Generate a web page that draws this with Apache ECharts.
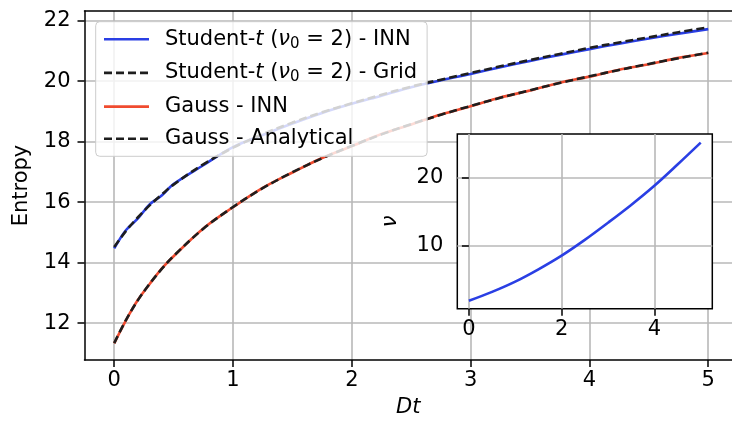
<!DOCTYPE html>
<html>
<head>
<meta charset="utf-8">
<script src="https://cdn.jsdelivr.net/npm/echarts@6/dist/echarts.min.js"></script>
<style>
  html, body { margin: 0; padding: 0; background: #fff; }
  #chart { width: 732px; height: 423px; }
</style>
</head>
<body>
<div id="chart"></div>
<script>
// main panel: entropy vs Dt
const dt = [0, 0.1, 0.2, 0.3, 0.4, 0.5, 0.75, 1, 1.25, 1.5, 1.75, 2, 2.25, 2.5, 2.75, 3, 3.25, 3.5, 3.75, 4, 4.25, 4.5, 4.75, 5]
const studentInn = [14.47, 15.08, 15.46, 15.93, 16.22, 16.60, 17.22, 17.82, 18.22, 18.60, 18.95, 19.25, 19.52, 19.80, 20.03, 20.24, 20.46, 20.67, 20.87, 21.06, 21.24, 21.41, 21.57, 21.72]
const studentGrid = [14.52, 15.05, 15.50, 15.90, 16.25, 16.58, 17.25, 17.80, 18.25, 18.63, 18.97, 19.27, 19.55, 19.82, 20.05, 20.27, 20.49, 20.70, 20.90, 21.10, 21.28, 21.45, 21.62, 21.78]
const gaussInn = [11.33, 12.10, 12.77, 13.30, 13.80, 14.21, 15.13, 15.83, 16.47, 16.98, 17.46, 17.85, 18.25, 18.57, 18.90, 19.17, 19.46, 19.69, 19.95, 20.15, 20.38, 20.56, 20.77, 20.93]
const gaussAnalytical = [11.34, 12.11, 12.76, 13.31, 13.79, 14.22, 15.12, 15.84, 16.46, 16.99, 17.45, 17.86, 18.24, 18.58, 18.89, 19.18, 19.45, 19.70, 19.94, 20.16, 20.37, 20.57, 20.76, 20.94]
const xTicks = [0, 1, 2, 3, 4, 5]
const yTicks = [12, 14, 16, 18, 20, 22]

// inset: nu vs Dt
const nuDt = [0, 0.5, 1, 1.5, 2, 2.5, 3, 3.5, 4, 4.5, 5]
const nu = [2.0, 3.3, 4.8, 6.6, 8.6, 10.9, 13.4, 16.0, 18.8, 21.9, 25.1]
const insetXTicks = [0, 2, 4]
const insetYTicks = [10, 20]

const names = [
  'Student-t (ν0 = 2) - INN',
  'Student-t (ν0 = 2) - Grid',
  'Gauss - INN',
  'Gauss - Analytical'
]
const legendText = {
  [names[0]]: 'Student-{it|t} ({it|ν}{sub|0} = 2) - INN',
  [names[1]]: 'Student-{it|t} ({it|ν}{sub|0} = 2) - Grid',
  [names[2]]: 'Gauss - INN',
  [names[3]]: 'Gauss - Analytical'
}

const FONT = 'DejaVu Sans'
const FS = 21
const BLUE = '#2a3fe4'
const RED = '#f04b2f'
const DASH = '#1e1e1e'
const GRIDC = '#b8b8b8'

const zip = (xs, ys) => xs.map((x, i) => [x, ys[i]])

const line = (name, data, color, dashed, z) => ({
  name,
  type: 'line',
  data: zip(dt, data),
  xAxisIndex: 0,
  yAxisIndex: 0,
  symbol: 'none',
  smooth: 0.35,
  z,
  lineStyle: { color, width: 2.6, type: dashed ? [8, 4] : 'solid' },
  itemStyle: { color },
  emphasis: { disabled: true }
})

const tickLabel = { fontFamily: FONT, fontSize: FS, color: '#000' }

const chart = echarts.init(document.getElementById('chart'), null, { renderer: 'canvas' })
chart.setOption({
  animation: false,
  backgroundColor: '#fff',
  grid: [
    { left: 84.5, top: 11, right: 0, bottom: 61.3 },
    {
      left: 457.3, top: 134, width: 255, height: 174.7, z: 5,
      show: true, backgroundColor: '#fff', borderColor: '#000', borderWidth: 1.5
    }
  ],
  legend: {
    orient: 'vertical',
    left: 95.7,
    top: 21.7,
    z: 10,
    padding: [7, 10, 7, 7],
    itemGap: 11.2,
    itemWidth: 45,
    itemHeight: 21,
    itemStyle: { opacity: 0 },
    lineStyle: { width: 2.6 },
    backgroundColor: 'rgba(255,255,255,0.8)',
    borderColor: '#cccccc',
    borderWidth: 1,
    borderRadius: 4,
    data: names,
    formatter: n => legendText[n],
    textStyle: {
      fontFamily: FONT, fontSize: FS, color: '#000', padding: [0, 0, 0, 11],
      rich: {
        it: { fontFamily: FONT, fontSize: FS, fontStyle: 'italic', color: '#000' },
        sub: { fontFamily: FONT, fontSize: 15, color: '#000', padding: [9, 0, 0, 0] }
      }
    }
  },
  xAxis: [
    {
      type: 'value', gridIndex: 0, min: -0.25, max: 5.2,
      name: 'Dt', nameLocation: 'middle', nameGap: 37,
      nameTextStyle: { fontFamily: FONT, fontSize: FS, fontStyle: 'italic', color: '#000' },
      axisLine: { show: true, onZero: false, lineStyle: { color: '#000', width: 1.5 } },
      axisTick: { show: true, length: 7, customValues: xTicks, lineStyle: { color: '#000', width: 1.5 } },
      axisLabel: { ...tickLabel, margin: 10, customValues: xTicks },
      splitLine: { show: true, lineStyle: { color: GRIDC, width: 1.6 } }
    },
    {
      type: 'value', gridIndex: 0, position: 'top', min: -0.25, max: 5.2,
      axisLine: { show: true, lineStyle: { color: '#000', width: 1.5 } },
      axisTick: { show: false }, axisLabel: { show: false }, splitLine: { show: false }
    },
    {
      type: 'value', gridIndex: 1, min: -0.25, max: 5.25, z: 6,
      axisLine: { show: false },
      axisTick: { show: true, length: 7, customValues: insetXTicks, lineStyle: { color: '#000', width: 1.5 } },
      axisLabel: { ...tickLabel, margin: 10, customValues: insetXTicks },
      splitLine: { show: true, lineStyle: { color: GRIDC, width: 1.6 } }
    }
  ],
  yAxis: [
    {
      type: 'value', gridIndex: 0, min: 10.78, max: 22.32,
      name: 'Entropy', nameLocation: 'middle', nameGap: 52, nameRotate: 90,
      nameTextStyle: { fontFamily: FONT, fontSize: FS, color: '#000' },
      axisLine: { show: true, onZero: false, lineStyle: { color: '#000', width: 1.5 } },
      axisTick: { show: true, length: 7, customValues: yTicks, lineStyle: { color: '#000', width: 1.5 } },
      axisLabel: { ...tickLabel, margin: 14, customValues: yTicks },
      splitLine: { show: true, lineStyle: { color: GRIDC, width: 1.6 } }
    },
    {
      type: 'value', gridIndex: 1, min: 0.84, max: 26.36, z: 6,
      name: 'ν', nameLocation: 'middle', nameGap: 56, nameRotate: 90,
      nameTextStyle: { fontFamily: FONT, fontSize: FS, fontStyle: 'italic', color: '#000' },
      axisLine: { show: false },
      axisTick: { show: true, length: 7, customValues: insetYTicks, lineStyle: { color: '#000', width: 1.5 } },
      axisLabel: { ...tickLabel, margin: 14, customValues: insetYTicks },
      splitLine: { show: true, lineStyle: { color: GRIDC, width: 1.6 } }
    }
  ],
  series: [
    line(names[0], studentInn, BLUE, false, 2),
    line(names[1], studentGrid, DASH, true, 3),
    line(names[2], gaussInn, RED, false, 4),
    line(names[3], gaussAnalytical, DASH, true, 5),
    {
      type: 'line',
      data: zip(nuDt, nu),
      xAxisIndex: 2,
      yAxisIndex: 1,
      symbol: 'none',
      smooth: 0.35,
      z: 7,
      lineStyle: { color: BLUE, width: 2.6 },
      emphasis: { disabled: true }
    }
  ]
})
</script>
</body>
</html>
